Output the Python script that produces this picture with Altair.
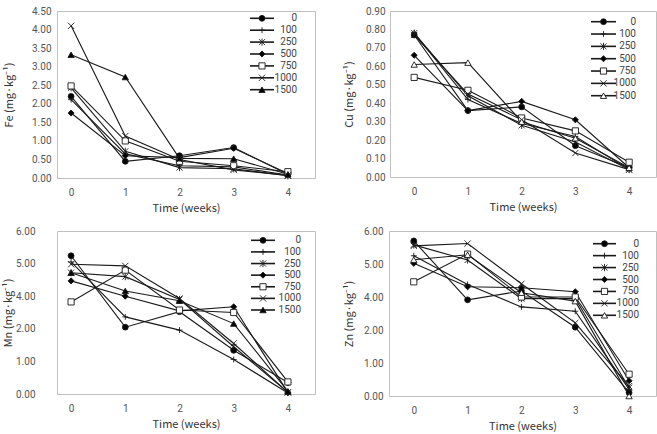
import altair as alt
import pandas as pd

SERIES = ["0", "100", "250", "500", "750", "1000", "1500"]
WEEKS = [0, 1, 2, 3, 4]

FE = {
    "0": [2.20, 0.45, 0.60, 0.82, 0.10],
    "100": [2.11, 0.65, 0.33, 0.30, 0.08],
    "250": [2.43, 0.72, 0.28, 0.25, 0.06],
    "500": [1.75, 0.60, 0.55, 0.80, 0.12],
    "750": [2.48, 1.00, 0.45, 0.33, 0.17],
    "1000": [4.10, 1.13, 0.50, 0.22, 0.07],
    "1500": [3.32, 2.72, 0.53, 0.52, 0.10],
}
CU = {
    "0": [0.77, 0.36, 0.38, 0.17, 0.05],
    "100": [0.78, 0.42, 0.29, 0.22, 0.04],
    "250": [0.78, 0.44, 0.28, 0.19, 0.04],
    "500": [0.66, 0.36, 0.41, 0.31, 0.05],
    "750": [0.54, 0.47, 0.32, 0.25, 0.08],
    "1000": [0.77, 0.45, 0.31, 0.13, 0.04],
    "1500": [0.61, 0.62, 0.30, 0.21, 0.05],
}
MN = {
    "0": [5.24, 2.10, 3.05, 1.34, 0.35],
    "100": [5.05, 2.73, 1.96, 1.06, 0.03],
    "250": [4.72, 4.60, 3.80, 1.45, 0.05],
    "500": [4.47, 4.00, 3.10, 3.35, 0.05],
    "750": [3.65, 4.80, 3.15, 3.00, 0.37],
    "1000": [4.98, 4.93, 3.86, 1.55, 0.05],
    "1500": [4.72, 4.16, 3.72, 2.32, 0.08],
}
ZN = {
    "0": [5.70, 3.83, 4.18, 2.17, 0.10],
    "100": [5.25, 4.38, 3.40, 3.14, 0.20],
    "250": [5.58, 5.12, 3.90, 3.91, 0.25],
    "500": [5.02, 4.31, 4.28, 4.16, 0.46],
    "750": [4.46, 5.30, 4.00, 4.00, 0.66],
    "1000": [5.55, 5.62, 4.40, 2.43, 0.30],
    "1500": [5.13, 5.28, 4.13, 3.75, 0.00],
}

FE_TICKS = [0, 0.5, 1.0, 1.5, 2.0, 2.5, 3.0, 3.5, 4.0, 4.5]
CU_TICKS = [0, 0.1, 0.2, 0.3, 0.4, 0.5, 0.6, 0.7, 0.8, 0.9]
MN_TICKS = [0, 1, 2, 4, 5, 6]
ZN_TICKS = [0, 1, 2, 4, 5, 6]

PLUS = "M-1,0H1M0,-1V1"
STAR = "M-1,-1L1,1M-1,1L1,-1M0,-1.2V1.2"
CROSS = "M-1,-1L1,1M-1,1L1,-1"
SHAPES = ["circle", PLUS, STAR, "diamond", "square", CROSS, "triangle-up"]

FONT = "Roboto"
TFONT = "Noto Sans CJK KR"


def long(d):
    rows = []
    for s in SERIES:
        for w, v in zip(WEEKS, d[s]):
            rows.append({"series": s, "week": w, "value": v})
    return pd.DataFrame(rows)


def panel(d, ytitle, yticks, width, height, xdomain, piecewise, open_tri, tri_size,
          lab_pad, extent, title_pad, leg_y, leg_x):
    df = long(d)
    if piecewise:
        n = len(yticks) - 1
        yscale = alt.Scale(domain=yticks, range=[height * (1 - i / n) for i in range(n + 1)])
    else:
        yscale = alt.Scale(domain=[yticks[0], yticks[-1]], nice=False, zero=True)
    xscale = alt.Scale(domain=xdomain, nice=False, zero=False)
    xaxis = alt.Axis(values=WEEKS, format="d", title="Time (weeks)", labelPadding=9,
                     titlePadding=5)
    yaxis = alt.Axis(values=yticks, format=".2f", title=ytitle, labelPadding=lab_pad,
                     minExtent=extent, maxExtent=extent, titlePadding=title_pad)
    shape = alt.Shape("series:N", scale=alt.Scale(domain=SERIES, range=SHAPES), legend=None)
    tri_fill = "white" if open_tri else "black"
    fill = alt.Fill("series:N", scale=alt.Scale(
        domain=SERIES,
        range=["black", "transparent", "transparent", "black", "white", "transparent", tri_fill]),
        legend=None)
    size = alt.Size("series:N", scale=alt.Scale(
        domain=SERIES, range=[34, 40, 40, 24, 30, 34, tri_size]), legend=None)

    lines = alt.Chart(df).mark_line(color="#1a1a1a", strokeWidth=1.1).encode(
        x=alt.X("week:Q", scale=xscale, axis=xaxis),
        y=alt.Y("value:Q", scale=yscale, axis=yaxis),
        detail="series:N",
        order="week:Q",
    )
    points = alt.Chart(df).mark_point(filled=True, stroke="#1a1a1a", strokeWidth=0.9,
                                      opacity=1).encode(
        x=alt.X("week:Q", scale=xscale, axis=xaxis),
        y=alt.Y("value:Q", scale=yscale, axis=None),
        shape=shape, fill=fill, size=size,
    )
    leg = pd.DataFrame({"series": SERIES})
    lscale = alt.Scale(type="point", domain=SERIES, range=list(leg_y), padding=0)
    x1, x2, xt = leg_x
    leg_rule = alt.Chart(leg).mark_rule(color="#1a1a1a", strokeWidth=1.6).encode(
        x=alt.value(x1), x2=alt.value(x2), y=alt.Y("series:N", scale=lscale, axis=None))
    leg_pt = alt.Chart(leg).mark_point(filled=True, stroke="#1a1a1a", strokeWidth=0.9,
                                       opacity=1).encode(
        x=alt.value((x1 + x2) / 2), y=alt.Y("series:N", scale=lscale, axis=None),
        shape=shape, fill=fill, size=size)
    leg_txt = alt.Chart(leg).mark_text(align="right", baseline="middle", fontSize=10,
                                       color="#444444", font=FONT).encode(
        x=alt.value(xt), y=alt.Y("series:N", scale=lscale, axis=None), text="series:N")
    return alt.layer(lines, points, leg_rule, leg_pt, leg_txt).resolve_scale(
        y="independent").properties(width=width, height=height)


fe = panel(FE, "Fe (mg·kg⁻¹)", FE_TICKS, 258, 167, [-0.26, 4.5], False, False, 40,
           6, 24, 19, (7.3, 78.7), (193, 217, 240))
cu = panel(CU, "Cu (mg·kg⁻¹)", CU_TICKS, 266, 166, [-0.45, 4.5], False, True, 40,
           5, 24, 12, (10.7, 84.7), (201, 226, 246))
mn = panel(MN, "Mn (mg·kg⁻¹)", MN_TICKS, 258, 163, [-0.26, 4.5], True, False, 40,
           22, 40, 4, (9.3, 79), (194, 218, 244))
zn = panel(ZN, "Zn (mg·kg⁻¹)", ZN_TICKS, 267, 165, [-0.46, 4.5], True, True, 80,
           6, 24, 11, (12.7, 84.3), (204, 227, 250))

RES = dict(fill="independent", size="independent", shape="independent")
top = alt.hconcat(fe, cu, spacing=26).resolve_scale(**RES)
bottom = alt.hconcat(mn, zn, spacing=26).resolve_scale(**RES)
chart = alt.vconcat(top, bottom, spacing=11).resolve_scale(**RES).properties(
    padding={"left": 1, "top": 5, "right": 0, "bottom": 0}
).configure_view(
    stroke="#c0c0c0", strokeWidth=1
).configure_axis(
    domain=False, grid=False, ticks=False, tickSize=0,
    labelFont=FONT, titleFont=TFONT, labelFontSize=10, titleFontSize=11,
    labelColor="#555555", titleColor="#333333", titleFontWeight="normal",
)

chart.save("out.html", embed_options={"renderer": "svg", "actions": False})
